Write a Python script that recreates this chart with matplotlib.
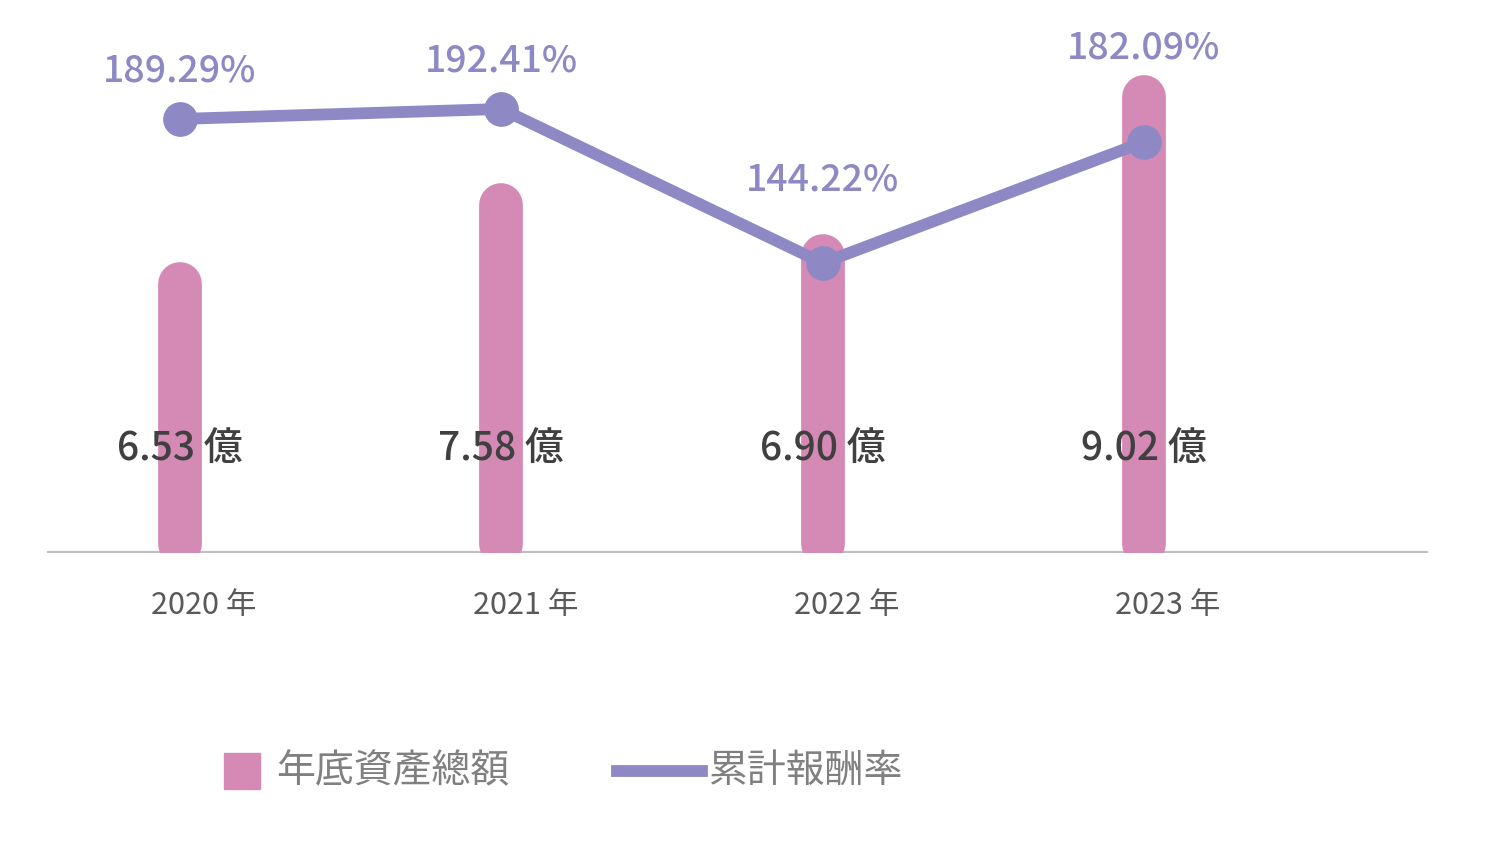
import matplotlib
matplotlib.use("Agg")
import matplotlib.pyplot as plt
from matplotlib.patches import Rectangle
from matplotlib.lines import Line2D

plt.rcParams["font.family"] = ["Noto Sans CJK TC", "Noto Sans CJK JP", "Noto Sans CJK SC", "DejaVu Sans"]

years = ["2020 年", "2021 年", "2022 年", "2023 年"]
assets = [6.53, 7.58, 6.90, 9.02]
returns = [189.29, 192.41, 144.22, 182.09]

BAR = "#d58ab6"
LINE = "#8e89c4"
PX = 75.1      # px per unit on bar axis
PXR = 3.196    # px per % on line axis
label_lift_px = [48, 48, 83, 94]

fig = plt.figure(figsize=(14.93, 8.68), dpi=100)
ax = fig.add_axes([47/1493, 1-553/868, (1428-47)/1493, 553/868])
ax.set_xlim(-0.414, 3.884)
ax.set_ylim(2.95, 10.31)
ax.axis("off")
for i, v in enumerate(assets):
    ax.plot([i, i], [2.95 + 0.12, v], color=BAR, lw=31.5, solid_capstyle="round", zorder=1)
    ax.text(i, 2.95 + (553-450)/PX, f"{v:.2f} 億", ha="center", va="center",
            fontsize=28, color="#404040", fontweight="medium", zorder=5)
ax.axhline(2.95, color="#bfbfbf", lw=3, zorder=0)

ax2 = ax.twinx()
ax2.set_ylim(53.5, 226.5)
ax2.set_xlim(-0.414, 3.884)
ax2.axis("off")
x = list(range(len(returns)))
ax2.plot(x, returns, color=LINE, lw=8.5, marker="o", ms=24, zorder=3)
for i, r in enumerate(returns):
    ax2.text(i, r + label_lift_px[i]/PXR, f"{r:.2f}%", ha="center", va="center",
             fontsize=27, color=LINE, fontweight="medium", zorder=6)

for i, y in enumerate(years):
    fig.text((180 + 321.3*i + 24)/1493, 1-605/868, y, ha="center", va="center",
             fontsize=22, color="#595959")

fig.patches.append(Rectangle((224/1493, 1-789/868), 36/1493, 36/868,
                             transform=fig.transFigure, color=BAR))
fig.text(276/1493, 1-771/868, "年底資產總額", va="center", fontsize=28, color="#808080")
fig.lines.append(Line2D([617/1493, 702/1493], [1-771/868]*2, transform=fig.transFigure,
                        color=LINE, lw=8.5))
fig.text(708/1493, 1-771/868, "累計報酬率", va="center", fontsize=28, color="#808080")

fig.savefig("out.png", dpi=100)
